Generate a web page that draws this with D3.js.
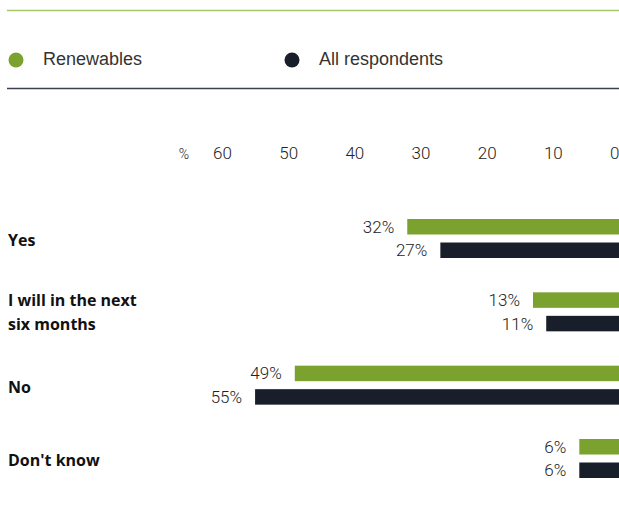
<!DOCTYPE html>
<html>
<head>
<meta charset="utf-8">
<script src="https://cdn.jsdelivr.net/npm/d3@7"></script>
<style>
  body { margin: 0; background: #fff; }
  svg { display: block; }
  .legend text { font-family: "Liberation Sans", Arial, sans-serif; font-size: 18px; fill: #333; }
  .cat { font-family: "Open Sans", sans-serif; font-weight: 700; font-size: 16px; fill: #111; }
  .val { font-family: "Roboto", sans-serif; font-weight: 300; font-size: 17px; fill: #222; }
  .axis text { font-family: "Roboto", sans-serif; font-weight: 300; font-size: 17px; fill: #222; }
</style>
</head>
<body>
<script>
'use strict';

var categories = [['Yes'], ['I will in the next', 'six months'], ['No'], ["Don't know"]];
var renewables = [32, 13, 49, 6];
var allRespondents = [27, 11, 55, 6];
var seriesNames = ['Renewables', 'All respondents'];
var seriesColors = ['#7ba12f', '#181e2a'];
var tickValues = [60, 50, 40, 30, 20, 10, 0];

var width = 619, height = 516;

var svg = d3.select('body').append('svg')
  .attr('width', width)
  .attr('height', height);

// rules above and below the legend
svg.append('line')
  .attr('x1', 7).attr('x2', width)
  .attr('y1', 10.5).attr('y2', 10.5)
  .style('stroke', '#a8c66a').style('stroke-width', 1.5);

svg.append('line')
  .attr('x1', 7).attr('x2', width)
  .attr('y1', 88.5).attr('y2', 88.5)
  .style('stroke', '#3b4252').style('stroke-width', 1.5);

// legend
var legendX = [16, 292];
var legend = svg.append('g').attr('class', 'legend')
  .selectAll('g')
  .data(seriesNames)
  .enter().append('g')
  .attr('transform', function(d, i) { return 'translate(' + legendX[i] + ',60)'; });

legend.append('circle')
  .attr('r', 7.5)
  .style('fill', function(d, i) { return seriesColors[i]; });

legend.append('text')
  .attr('x', 27)
  .attr('y', -1)
  .attr('dy', '0.35em')
  .text(function(d) { return d; });

// scales
var x = d3.scaleLinear().domain([0, 60]).range([619, 222]);
var groupTop = d3.scaleLinear().domain([0, 3]).range([219, 439]);
var barH = 15.5, barGap = 23.5;

// axis (labels only)
var axis = svg.append('g')
  .attr('class', 'axis')
  .attr('transform', 'translate(0,159)')
  .call(d3.axisTop(x).tickValues(tickValues).tickSize(0).tickPadding(0));
axis.select('.domain').remove();
axis.selectAll('text')
  .attr('text-anchor', function(d) { return d === 0 ? 'end' : 'middle'; });
axis.append('text')
  .attr('x', 184)
  .attr('y', 0)
  .attr('text-anchor', 'middle')
  .style('font-size', '14px')
  .text('%');

// groups
var rows = categories.map(function(c, i) {
  return { label: c, values: [renewables[i], allRespondents[i]], i: i };
});

var group = svg.selectAll('g.row')
  .data(rows)
  .enter().append('g')
  .attr('class', 'row')
  .attr('transform', function(d) { return 'translate(0,' + groupTop(d.i) + ')'; });

group.append('text')
  .attr('class', 'cat')
  .attr('y', function(d) { return d.label.length > 1 ? 8 : 21.5; })
  .selectAll('tspan')
  .data(function(d) { return d.label; })
  .enter().append('tspan')
  .attr('x', 8)
  .attr('dy', function(d, i) { return i === 0 ? '0.35em' : 24; })
  .text(function(d) { return d; });

var bars = group.selectAll('g.bar')
  .data(function(d) { return d.values; })
  .enter().append('g')
  .attr('class', 'bar')
  .attr('transform', function(d, i) { return 'translate(0,' + (i * barGap) + ')'; });

bars.append('rect')
  .attr('x', function(d) { return x(d); })
  .attr('width', function(d) { return x(0) - x(d); })
  .attr('height', barH)
  .style('fill', function(d, i) { return seriesColors[i]; });

bars.append('text')
  .attr('class', 'val')
  .attr('x', function(d) { return x(d) - 13; })
  .attr('y', barH / 2)
  .attr('dy', '0.35em')
  .attr('text-anchor', 'end')
  .text(function(d) { return d + '%'; });
</script>
</body>
</html>
